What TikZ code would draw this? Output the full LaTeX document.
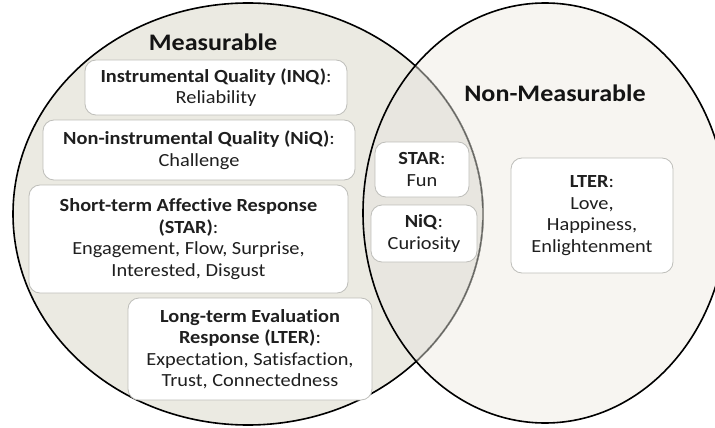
\documentclass[tikz,border=0pt]{standalone}
\usepackage{fontspec}
\setmainfont{Carlito}[FakeStretch=1.1,Ligatures=NoCommon]
\begin{document}
\begin{tikzpicture}[x=1pt,y=-1pt,
  txt/.style={text=black!88, align=center, font=\fontsize{18.5}{21.5}\selectfont},
  box/.style={txt, draw={rgb,255:red,190;green,190;blue,186}, line width=0.8pt, fill=white, rounded corners=11pt, inner sep=0pt},
  ttl/.style={text=black!92, font=\fontsize{23.7}{26}\selectfont\bfseries},
  circ/.style={line width=1.6pt, draw=black}
]
\definecolor{leftc}{RGB}{235,234,226}
\definecolor{rightc}{RGB}{247,245,241}
\definecolor{lensc}{RGB}{232,230,224}
\definecolor{lensedge}{RGB}{100,100,96}
\fill[white] (0,0) rectangle (715,428);
\useasboundingbox (0,0) rectangle (715,428);
\clip (0,0) rectangle (715,428);
% circles
\fill[leftc] (248,214) ellipse [x radius=235pt, y radius=211pt];
\fill[rightc] (545,213) ellipse [x radius=182pt, y radius=210pt];
\begin{scope}
  \clip (248,214) ellipse [x radius=235pt, y radius=211pt];
  \fill[lensc] (545,213) ellipse [x radius=182pt, y radius=210pt];
\end{scope}
\draw[circ] (248,214) ellipse [x radius=235pt, y radius=211pt];
\begin{scope}
  \clip (545,213) ellipse [x radius=182pt, y radius=210pt];
  \draw[line width=1.8pt, draw=lensc] (248,214) ellipse [x radius=235pt, y radius=211pt];
  \draw[line width=1.3pt, draw=lensedge] (248,214) ellipse [x radius=235pt, y radius=211pt];
\end{scope}
\draw[circ] (545,213) ellipse [x radius=182pt, y radius=210pt];
% titles
\node[ttl] (tm) at (213,42) {Measurable};
\node[ttl] (tn) at (555,93) {Non-Measurable};
% left boxes
\node[box, minimum width=262pt, minimum height=55pt] (inq) at (216,87.5)
  {\textbf{Instrumental Quality (INQ)}:\\Reliability};
\node[box, minimum width=312pt, minimum height=60pt] (niq) at (199,150)
  {\textbf{Non-instrumental Quality (NiQ)}:\\Challenge};
\node[box, minimum width=319pt, minimum height=108pt] (star) at (188.5,239)
  {\textbf{Short-term Affective Response}\\\textbf{(STAR)}:\\Engagement, Flow, Surprise,\\Interested, Disgust};
\node[box, minimum width=244pt, minimum height=102pt] (lter) at (250,349)
  {\textbf{Long-term Evaluation}\\\textbf{Response (LTER)}:\\Expectation, Satisfaction,\\Trust, Connectedness};
% lens boxes
\node[box, minimum width=94pt, minimum height=55pt] (fun) at (422,169.5)
  {\textbf{STAR}:\\Fun};
\node[box, minimum width=106pt, minimum height=57pt] (cur) at (424,233.5)
  {\textbf{NiQ}:\\Curiosity};
% right box
\node[box, minimum width=162pt, minimum height=115pt] (lr) at (592,215.5)
  {\textbf{LTER}:\\Love,\\Happiness,\\Enlightenment};
\end{tikzpicture}
\end{document}
